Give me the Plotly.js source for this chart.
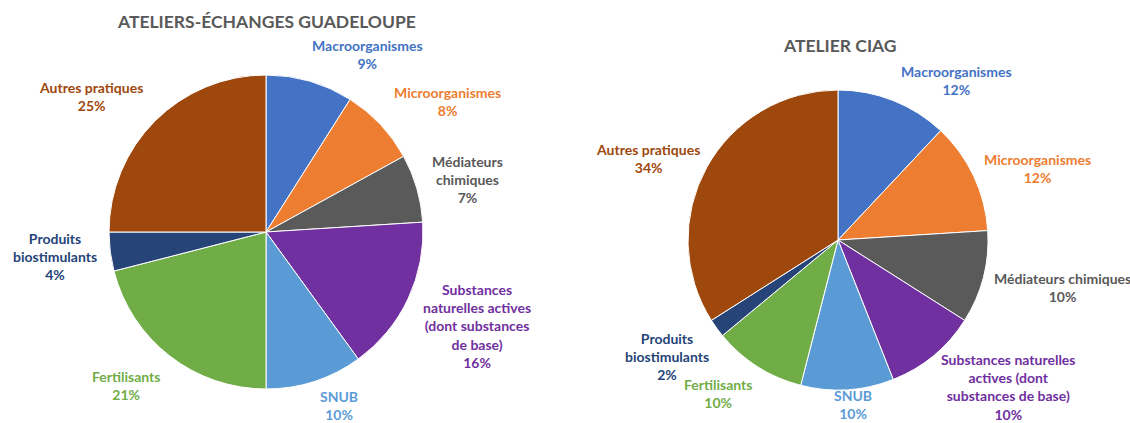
<!DOCTYPE html>
<html><head><meta charset="utf-8">
<script src="https://cdn.plot.ly/plotly-3.0.1.min.js"></script>
<style>html,body{margin:0;padding:0;background:#fff}#chart{width:1130px;height:423px}</style>
</head><body><div id="chart"></div>
<script>
const categories = ["Macroorganismes","Microorganismes","Médiateurs chimiques","Substances naturelles actives (dont substances de base)","SNUB","Fertilisants","Produits biostimulants","Autres pratiques"];
const valuesGuadeloupe = [9, 8, 7, 16, 10, 21, 4, 25];
const valuesCiag = [12, 12, 10, 10, 10, 10, 2, 34];
const labelLinesGuadeloupe = ["Macroorganismes","Microorganismes","Médiateurs<br>chimiques","Substances<br>naturelles actives<br>(dont substances<br>de base)","SNUB","Fertilisants","Produits<br>biostimulants","Autres pratiques"];
const labelLinesCiag = ["Macroorganismes","Microorganismes","Médiateurs chimiques","Substances naturelles<br>actives (dont<br>substances de base)","SNUB","Fertilisants","Produits<br>biostimulants","Autres pratiques"];
const titles = ["ATELIERS-ÉCHANGES GUADELOUPE","ATELIER CIAG"];
const colors = ["#4472C4","#ED7D31","#5A5A5A","#7030A0","#5B9BD5","#70AD47","#264478","#9E480E"];
const textColors = ["#4472C4","#ED7D31","#595959","#7030A0","#5B9BD5","#70AD47","#264478","#9E480E"];

const W = 1130, H = 423;
// label block centers in pixels (layout only)
const posLeft = [[367,55],[447,101],[467,179],[477,326],[339,405],[126,385],[55,256],[91,96]];
const posRight = [[956,80],[1037,168],[1062,287],[1008,387],[853,404],[718,393],[667,356],[648,158]];

function pieTrace(vals, cx, cy, r) {
  return {
    type: 'pie', values: vals, labels: categories, sort: false, direction: 'clockwise', rotation: 0,
    marker: {colors: colors, line: {color: '#ffffff', width: 1}},
    textinfo: 'none', hoverinfo: 'label+percent', showlegend: false,
    domain: {x: [(cx - r) / W, (cx + r) / W], y: [(H - cy - r) / H, (H - cy + r) / H]}
  };
}
function annots(lines, vals, pos) {
  return lines.map((t, i) => ({
    xref: 'paper', yref: 'paper', x: pos[i][0] / W, y: 1 - pos[i][1] / H,
    xanchor: 'center', yanchor: 'middle', showarrow: false, align: 'center',
    text: t + '<br>' + vals[i] + '%',
    font: {family: 'Lato, "Open Sans", sans-serif', size: 14, color: textColors[i], weight: 'bold'}
  }));
}
const titleAnn = [
  {xref:'paper',yref:'paper',x:266/W,y:1-22/H,xanchor:'center',yanchor:'middle',showarrow:false,text:'<b>'+titles[0]+'</b>',font:{family:'Lato, sans-serif',size:17.5,color:'#595959'}},
  {xref:'paper',yref:'paper',x:840/W,y:1-45/H,xanchor:'center',yanchor:'middle',showarrow:false,text:'<b>'+titles[1]+'</b>',font:{family:'Lato, sans-serif',size:17.5,color:'#595959'}}
];
const data = [pieTrace(valuesGuadeloupe, 266, 232, 157), pieTrace(valuesCiag, 838, 240, 150)];
const layout = {
  width: W, height: H, margin: {l:0,r:0,t:0,b:0}, paper_bgcolor:'#fff', showlegend:false,
  annotations: titleAnn.concat(annots(labelLinesGuadeloupe, valuesGuadeloupe, posLeft), annots(labelLinesCiag, valuesCiag, posRight))
};
Plotly.newPlot('chart', data, layout, {displayModeBar:false, staticPlot:true});
</script></body></html>
